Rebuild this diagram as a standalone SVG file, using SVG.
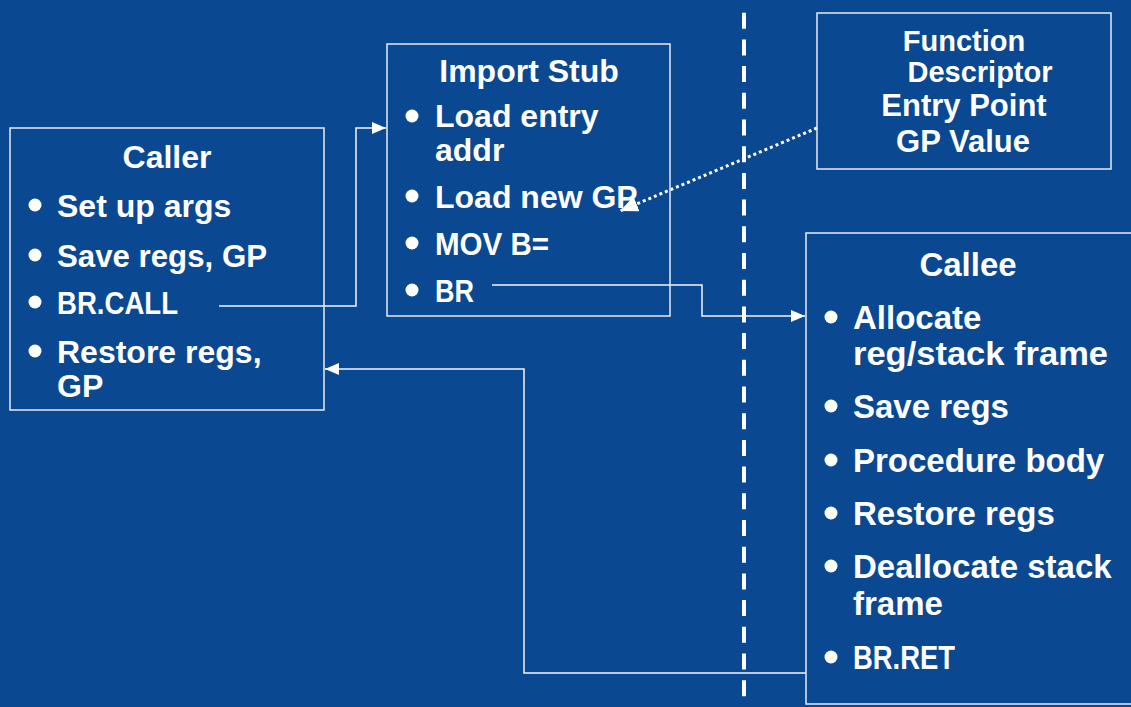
<svg xmlns="http://www.w3.org/2000/svg" width="1131" height="707" viewBox="0 0 1131 707">
<defs>
<style>
.bg{fill:#0a4891}
.box{fill:none;stroke:#e6ecf4;stroke-width:1.5}
.t{font-family:"Liberation Sans",Arial,sans-serif;font-weight:bold;fill:#ffffff;font-size:32px}
.tc{font-size:33px}
.ttl{text-anchor:middle}
.dot{fill:#ffffff}
.conn{fill:none;stroke:#f2f5fa;stroke-width:1.5}
.dotted{fill:none;stroke:#ffffff;stroke-width:3;stroke-dasharray:3 3}
.divider{stroke:#ffffff;stroke-width:4;stroke-dasharray:16 10.7}
</style>
<marker id="arr" viewBox="0 0 14 12" refX="14" refY="6" markerWidth="14" markerHeight="12" markerUnits="userSpaceOnUse" orient="auto">
<path d="M0,0 L14,6 L0,12 z" fill="#ffffff"/>
</marker>
<marker id="arrBig" viewBox="0 0 18 16" refX="18" refY="8" markerWidth="18" markerHeight="16" markerUnits="userSpaceOnUse" orient="auto">
<path d="M0,0 L18,8 L0,16 z" fill="#ffffff"/>
</marker>
</defs>
<rect class="bg" x="0" y="0" width="1131" height="707"/>
<line class="divider" x1="744" y1="12.7" x2="744" y2="707"/>

<g id="connectors">
<polyline class="conn" points="219,306 356,306 356,128 386,128" marker-end="url(#arr)"/>
<polyline class="conn" points="492,285 702,285 702,316 805,316" marker-end="url(#arr)"/>
<polyline class="conn" points="806,673 524,673 524,369 325,369" marker-end="url(#arr)"/>
<line class="dotted" x1="817" y1="128" x2="620" y2="211" marker-end="url(#arrBig)"/>
</g>

<g id="caller">
<rect class="box" x="10" y="128" width="314" height="282"/>
<text class="t ttl" x="167" y="168">Caller</text>
<circle class="dot" cx="35" cy="205" r="6.5"/>
<text class="t" x="57" y="217">Set up args</text>
<circle class="dot" cx="35" cy="255" r="6.5"/>
<text class="t" x="57" y="267" textLength="210" lengthAdjust="spacingAndGlyphs">Save regs, GP</text>
<circle class="dot" cx="35" cy="302" r="6.5"/>
<text class="t" x="57" y="314" textLength="121" lengthAdjust="spacingAndGlyphs">BR.CALL</text>
<circle class="dot" cx="35" cy="351" r="6.5"/>
<text class="t" x="57" y="363">Restore regs,</text>
<text class="t" x="57" y="397">GP</text>
</g>

<g id="import-stub">
<rect class="box" x="387" y="44" width="283" height="272"/>
<text class="t ttl" x="529" y="82">Import Stub</text>
<circle class="dot" cx="412" cy="116" r="6.5"/>
<text class="t" x="435" y="127">Load entry</text>
<text class="t" x="435" y="161">addr</text>
<circle class="dot" cx="412" cy="196" r="6.5"/>
<text class="t" x="435" y="208">Load new GP</text>
<circle class="dot" cx="412" cy="243" r="6.5"/>
<text class="t" x="435" y="255" textLength="114" lengthAdjust="spacingAndGlyphs">MOV B=</text>
<circle class="dot" cx="412" cy="290" r="6.5"/>
<text class="t" x="435" y="302" textLength="39" lengthAdjust="spacingAndGlyphs">BR</text>
</g>

<g id="function-descriptor">
<rect class="box" x="817" y="13" width="294" height="156"/>
<text class="t ttl" x="964" y="51" style="font-size:29px">Function</text>
<text class="t ttl" x="980" y="82" style="font-size:29px">Descriptor</text>
<text class="t ttl" x="964" y="116" style="font-size:31px">Entry Point</text>
<text class="t ttl" x="963" y="152" style="font-size:31px">GP Value</text>
</g>

<g id="callee">
<rect class="box" x="806" y="233" width="335" height="471"/>
<text class="t tc ttl" x="968" y="276">Callee</text>
<circle class="dot" cx="831" cy="317" r="6.5"/>
<text class="t tc" x="853" y="329">Allocate</text>
<text class="t tc" x="853" y="365" textLength="255" lengthAdjust="spacingAndGlyphs">reg/stack frame</text>
<circle class="dot" cx="831" cy="406" r="6.5"/>
<text class="t tc" x="853" y="418">Save regs</text>
<circle class="dot" cx="831" cy="460" r="6.5"/>
<text class="t tc" x="853" y="472">Procedure body</text>
<circle class="dot" cx="831" cy="513" r="6.5"/>
<text class="t tc" x="853" y="525">Restore regs</text>
<circle class="dot" cx="831" cy="566" r="6.5"/>
<text class="t tc" x="853" y="578">Deallocate stack</text>
<text class="t tc" x="853" y="615">frame</text>
<circle class="dot" cx="831" cy="657" r="6.5"/>
<text class="t tc" x="853" y="669" textLength="102" lengthAdjust="spacingAndGlyphs">BR.RET</text>
</g>
</svg>
